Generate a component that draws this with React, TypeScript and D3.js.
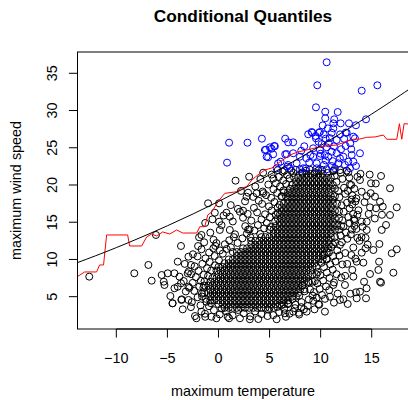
import React from 'react';
import * as d3 from 'd3';

const xTicks = [-10, -5, 0, 5, 10, 15];
const yTicks = [5, 10, 15, 20, 25, 30, 35];
const xDomain = [-13.8, 18.6];
const yDomain = [0.66, 37.86];

// solid core of the black cloud (one y level per row, x values along the row)
const coreY = [3.5, 4.0, 4.5, 5.0, 5.5, 6.0, 6.5, 7.0, 7.5, 8.0, 8.5, 9.0, 9.5, 10.0, 10.5, 11.0, 11.5, 12.0, 12.5, 13.0, 13.5, 14.0, 14.5, 15.0, 15.5, 16.0, 16.5, 17.0, 17.5, 18.0, 18.5, 19.0, 19.5, 20.0, 20.5, 21.0, 21.5];
const coreX = [
  [0.6, 1.0, 1.4, 1.8, 2.2, 2.6, 3.0, 3.4, 3.8, 4.2, 4.6, 5.0, 5.4],
  [0.0, 0.4, 0.8, 1.2, 1.6, 2.0, 2.4, 2.8, 3.2, 3.6, 4.0, 4.4, 4.8, 5.2, 5.6, 6.0, 6.4, 6.8],
  [-0.8, -0.4, 0.0, 0.4, 0.8, 1.2, 1.6, 2.0, 2.4, 2.8, 3.2, 3.6, 4.0, 4.4, 4.8, 5.2, 5.6, 6.0, 6.4, 6.8],
  [-0.8, -0.4, 0.0, 0.4, 0.8, 1.2, 1.6, 2.0, 2.4, 2.8, 3.2, 3.6, 4.0, 4.4, 4.8, 5.2, 5.6, 6.0, 6.4, 6.8, 7.2, 7.6],
  [-1.4, -1.0, -0.6, -0.2, 0.2, 0.6, 1.0, 1.4, 1.8, 2.2, 2.6, 3.0, 3.4, 3.8, 4.2, 4.6, 5.0, 5.4, 5.8, 6.2, 6.6, 7.0, 7.4, 7.8],
  [-0.8, -0.4, 0.0, 0.4, 0.8, 1.2, 1.6, 2.0, 2.4, 2.8, 3.2, 3.6, 4.0, 4.4, 4.8, 5.2, 5.6, 6.0, 6.4, 6.8, 7.2, 7.6, 8.0, 8.4],
  [-1.4, -1.0, -0.6, -0.2, 0.2, 0.6, 1.0, 1.4, 1.8, 2.2, 2.6, 3.0, 3.4, 3.8, 4.2, 4.6, 5.0, 5.4, 5.8, 6.2, 6.6, 7.0, 7.4, 7.8, 8.2],
  [-0.8, -0.4, 0.0, 0.4, 0.8, 1.2, 1.6, 2.0, 2.4, 2.8, 3.2, 3.6, 4.0, 4.4, 4.8, 5.2, 5.6, 6.0, 6.4, 6.8, 7.2, 7.6, 8.0, 8.4, 8.8, 9.2],
  [-0.6, -0.2, 0.2, 0.6, 1.0, 1.4, 1.8, 2.2, 2.6, 3.0, 3.4, 3.8, 4.2, 4.6, 5.0, 5.4, 5.8, 6.2, 6.6, 7.0, 7.4, 7.8, 8.2, 8.6],
  [0.0, 0.4, 0.8, 1.2, 1.6, 2.0, 2.4, 2.8, 3.2, 3.6, 4.0, 4.4, 4.8, 5.2, 5.6, 6.0, 6.4, 6.8, 7.2, 7.6, 8.0, 8.4, 8.8, 9.2, 9.6],
  [-0.2, 0.2, 0.6, 1.0, 1.4, 1.8, 2.2, 2.6, 3.0, 3.4, 3.8, 4.2, 4.6, 5.0, 5.4, 5.8, 6.2, 6.6, 7.0, 7.4, 7.8, 8.2, 8.6, 9.0],
  [0.0, 0.4, 0.8, 1.2, 1.6, 2.0, 2.4, 2.8, 3.2, 3.6, 4.0, 4.4, 4.8, 5.2, 5.6, 6.0, 6.4, 6.8, 7.2, 7.6, 8.0, 8.4, 8.8, 9.2, 9.6],
  [0.6, 1.0, 1.4, 1.8, 2.2, 2.6, 3.0, 3.4, 3.8, 4.2, 4.6, 5.0, 5.4, 5.8, 6.2, 6.6, 7.0, 7.4, 7.8, 8.2, 8.6, 9.0, 9.4],
  [1.0, 1.4, 1.8, 2.2, 2.6, 3.0, 3.4, 3.8, 4.2, 4.6, 5.0, 5.4, 5.8, 6.2, 6.6, 7.0, 7.4, 7.8, 8.2, 8.6, 9.0, 9.4, 9.8, 10.2, 10.6],
  [1.8, 2.2, 2.6, 3.0, 3.4, 3.8, 4.2, 4.6, 5.0, 5.4, 5.8, 6.2, 6.6, 7.0, 7.4, 7.8, 8.2, 8.6, 9.0, 9.4, 9.8, 10.2],
  [1.4, 1.8, 2.2, 2.6, 3.0, 3.4, 3.8, 4.2, 4.6, 5.0, 5.4, 5.8, 6.2, 6.6, 7.0, 7.4, 7.8, 8.2, 8.6, 9.0, 9.4, 9.8, 10.2, 10.6],
  [2.4, 2.8, 3.2, 3.6, 4.0, 4.4, 4.8, 5.2, 5.6, 6.0, 6.4, 6.8, 7.2, 7.6, 8.0, 8.4, 8.8, 9.2, 9.6, 10.0, 10.4],
  [3.2, 3.6, 4.0, 4.4, 4.8, 5.2, 5.6, 6.0, 6.4, 6.8, 7.2, 7.6, 8.0, 8.4, 8.8, 9.2, 9.6, 10.0, 10.4, 10.8, 11.2],
  [3.2, 3.6, 4.0, 4.4, 4.8, 5.2, 5.6, 6.0, 6.4, 6.8, 7.2, 7.6, 8.0, 8.4, 8.8, 9.2, 9.6, 10.0, 10.4, 10.8],
  [4.2, 4.6, 5.0, 5.4, 5.8, 6.2, 6.6, 7.0, 7.4, 7.8, 8.2, 8.6, 9.0, 9.4, 9.8, 10.2, 10.6, 11.0, 11.4],
  [5.4, 5.8, 6.2, 6.6, 7.0, 7.4, 7.8, 8.2, 8.6, 9.0, 9.4, 9.8, 10.2, 10.6, 11.0],
  [5.0, 5.4, 5.8, 6.2, 6.6, 7.0, 7.4, 7.8, 8.2, 8.6, 9.0, 9.4, 9.8, 10.2, 10.6, 11.0, 11.4, 11.8],
  [5.6, 6.0, 6.4, 6.8, 7.2, 7.6, 8.0, 8.4, 8.8, 9.2, 9.6, 10.0, 10.4, 10.8, 11.2, 11.6, 12.0],
  [6.0, 6.4, 6.8, 7.2, 7.6, 8.0, 8.4, 8.8, 9.2, 9.6, 10.0, 10.4, 10.8, 11.2],
  [5.8, 6.2, 6.6, 7.0, 7.4, 7.8, 8.2, 8.6, 9.0, 9.4, 9.8, 10.2, 10.6, 11.0, 11.4, 11.8],
  [5.6, 6.0, 6.4, 6.8, 7.2, 7.6, 8.0, 8.4, 8.8, 9.2, 9.6, 10.0, 10.4, 10.8, 11.2],
  [6.2, 6.6, 7.0, 7.4, 7.8, 8.2, 8.6, 9.0, 9.4, 9.8, 10.2, 10.6, 11.0, 11.4, 11.8],
  [5.8, 6.2, 6.6, 7.0, 7.4, 7.8, 8.2, 8.6, 9.0, 9.4, 9.8, 10.2, 10.6, 11.0],
  [6.4, 6.8, 7.2, 7.6, 8.0, 8.4, 8.8, 9.2, 9.6, 10.0, 10.4, 10.8, 11.2, 11.6],
  [6.8, 7.2, 7.6, 8.0, 8.4, 8.8, 9.2, 9.6, 10.0, 10.4, 10.8, 11.2],
  [6.2, 6.6, 7.0, 7.4, 7.8, 8.2, 8.6, 9.0, 9.4, 9.8, 10.2, 10.6, 11.0, 11.4],
  [6.4, 6.8, 7.2, 7.6, 8.0, 8.4, 8.8, 9.2, 9.6, 10.0, 10.4, 10.8],
  [7.0, 7.4, 7.8, 8.2, 8.6, 9.0, 9.4, 9.8, 10.2, 10.6, 11.0, 11.4],
  [7.2, 7.6, 8.0, 8.4, 8.8, 9.2, 9.6, 10.0, 10.4, 10.8, 11.2],
  [7.6, 8.0, 8.4, 8.8, 9.2, 9.6, 10.0, 10.4, 10.8],
  [7.4, 7.8, 8.2, 8.6, 9.0, 9.4, 9.8, 10.2, 10.6, 11.0],
  [8.2, 8.6, 9.0, 9.4, 9.8, 10.2],
];

// medium-density points around the core
const midPoints: [number, number][] = [
  [-1.32, 2.71], [-0.45, 3.18], [0.12, 2.62], [0.74, 3.05], [1.38, 2.48], [1.93, 3.21], [2.47, 2.77], [3.12, 2.35],
  [3.58, 3.02], [4.21, 2.66], [4.87, 3.27], [5.36, 2.52], [5.94, 2.93], [6.42, 3.38], [6.95, 2.71], [7.48, 3.46],
  [7.86, 2.84], [8.37, 3.31], [-0.93, 3.72], [0.31, 3.41], [6.18, 3.86], [6.83, 4.12], [7.55, 3.93], [8.12, 4.27],
  [8.74, 3.77], [9.28, 4.45], [5.77, 3.62], [7.24, 4.68], [7.91, 5.13], [8.43, 5.72], [8.21, 6.48], [8.86, 6.93],
  [-1.76, 3.84], [-1.18, 4.33], [-2.04, 4.92], [-1.63, 5.41], [-2.37, 5.78], [-1.88, 6.35], [-2.52, 6.86], [-1.73, 7.12],
  [-2.21, 7.63], [-1.46, 7.94], [-1.95, 8.47], [-1.12, 8.82], [-2.33, 9.08], [-1.58, 9.41], [-0.86, 9.67], [-1.27, 10.15],
  [-0.38, 10.46], [-0.92, 10.93], [0.14, 11.21], [-0.31, 11.82], [0.62, 12.04], [1.21, 11.63], [1.05, 12.57], [1.87, 12.21],
  [2.34, 12.83], [1.62, 13.38], [2.78, 13.47], [3.13, 12.96], [0.42, 10.78], [0.05, 9.88], [-0.35, 9.21], [-0.71, 8.52],
  [-1.02, 7.79], [-1.37, 7.05], [-1.48, 6.21], [-1.61, 5.02], [-1.24, 4.71], [-0.73, 4.12], [-2.68, 8.03], [-2.61, 4.27],
  [-2.85, 6.18], [-2.05, 10.41], [-1.66, 11.37], [-0.48, 12.64],
  [3.52, 13.88], [4.08, 13.41], [4.47, 14.17], [3.86, 14.62], [4.73, 14.91], [4.21, 15.38], [5.02, 15.66], [4.56, 16.07],
  [3.78, 16.32], [5.21, 16.58], [4.94, 17.13], [4.27, 17.46], [5.48, 17.71], [5.16, 18.28], [4.66, 18.64], [5.74, 18.93],
  [5.38, 19.42], [6.03, 19.81], [5.62, 20.23], [6.34, 20.62], [5.91, 21.08], [6.72, 21.34], [6.28, 21.77], [7.12, 21.91],
  [3.21, 15.21], [2.86, 16.12], [3.47, 16.93], [3.94, 17.88], [4.33, 19.12], [4.88, 20.06], [5.37, 20.87], [2.62, 14.47],
  [3.04, 14.05], [5.12, 14.35], [5.55, 15.12], [5.81, 16.24], [5.98, 17.32], [6.16, 18.41], [6.37, 19.28], [6.62, 20.14],
  [6.95, 20.88], [7.33, 21.62],
  [12.08, 12.31], [12.61, 12.77], [11.94, 13.22], [12.47, 13.64], [13.06, 14.02], [12.23, 14.41], [12.84, 14.88], [12.12, 15.27],
  [12.71, 15.69], [13.18, 16.11], [12.26, 16.42], [12.83, 16.86], [12.05, 17.27], [12.58, 17.62], [13.02, 18.05], [11.84, 18.36],
  [12.41, 18.81], [11.72, 19.18], [12.29, 19.63], [12.86, 20.04], [11.56, 20.41], [12.13, 20.82], [11.38, 21.23], [11.97, 21.64],
  [12.54, 21.93], [11.21, 21.87], [12.95, 13.36], [13.27, 15.44], [13.09, 17.38], [12.66, 19.22],
  [9.62, 4.86], [10.13, 5.23], [9.35, 5.62], [9.91, 6.04], [10.52, 6.37], [9.68, 6.79], [10.24, 7.16], [10.87, 7.52],
  [9.97, 7.89], [10.61, 8.24], [11.18, 8.63], [10.33, 8.97], [10.94, 9.36], [11.45, 9.72], [10.59, 10.08], [11.22, 10.44],
  [10.81, 10.93], [11.63, 11.22], [11.05, 11.67], [11.89, 11.94], [11.42, 12.28], [8.84, 4.62], [9.21, 5.15], [8.97, 5.96],
  [9.43, 7.08], [9.72, 8.31], [10.08, 9.54], [10.37, 10.61], [10.71, 11.49], [11.84, 10.52], [12.13, 9.33], [11.56, 8.02],
  [11.31, 6.91], [10.84, 5.88], [10.42, 4.71], [9.86, 3.92], [12.41, 10.86], [12.02, 7.56], [11.67, 5.41],
  [6.45, 21.93], [7.56, 22.04], [8.22, 21.68], [8.93, 22.06], [9.44, 21.71], [10.13, 22.03], [10.66, 21.62], [11.31, 21.98],
  [8.57, 21.91], [9.78, 21.94],
];

// isolated black points at the fringes of the cloud
const sparseBlack: [number, number][] = [
  [-12.65, 7.69], [-8.24, 8.14], [-6.86, 9.26], [-6.54, 7.15], [-6.12, 13.29], [-3.67, 11.81], [-3.99, 9.7],
  [-2.94, 10.37], [-2.69, 9.26], [-5.56, 7.91], [-4.97, 8.14], [-4.31, 8.14], [-5.36, 7.01], [-5.29, 6.57],
  [-4.71, 5.09], [-4.48, 4.11], [-4.31, 6.13], [-3.99, 6.34], [-3.67, 6.8], [-3.82, 7.69], [-3.6, 4.65],
  [-2.94, 4.56], [-3.01, 8.14], [-2.94, 6.34], [-4.51, 4.11], [-3.63, 4.56], [-2.16, 2.1], [-1.67, 2.99],
  [-0.69, 2.31], [-1.9, 12.98], [-1.67, 13.29], [-1.02, 17.54], [0.06, 17.54], [0.78, 16.28], [-0.36, 16.28],
  [-0.59, 15.39], [0.06, 15.07], [1.11, 15.74], [2.09, 16.41], [2.41, 16.55], [2.75, 18.43], [2.9, 18.97],
  [0.13, 13.96], [1.11, 13.96], [1.67, 20.58], [3.0, 21.11], [4.37, 21.65], [3.73, 18.88],
  [1.04, 2.1], [3.07, 1.97], [5.69, 1.97], [6.5, 2.77], [7.31, 2.99], [8.63, 2.99], [10.42, 2.99], [12.65, 4.02],
  [13.53, 4.78], [14.44, 4.78], [13.85, 5.67], [14.5, 6.13], [15.91, 6.88], [11.89, 4.56], [11.24, 6.57],
  [10.91, 5.0], [12.22, 4.65], [13.46, 5.59], [14.25, 7.01], [15.81, 7.01], [15.65, 8.59], [14.83, 8.05],
  [15.72, 9.7], [17.12, 8.22], [17.45, 11.36], [16.96, 10.83], [15.75, 12.08], [15.16, 11.27], [14.02, 10.91],
  [13.2, 7.69], [12.38, 6.57], [14.18, 9.57], [13.53, 9.7], [13.0, 10.6], [13.8, 12.5], [14.4, 12.9], [13.3, 14.5],
  [14.0, 13.0], [13.6, 16.0], [13.4, 17.8], [13.1, 18.6], [13.0, 20.0], [12.8, 21.0],
  [14.93, 20.23], [16.79, 19.56], [15.91, 21.21], [17.45, 17.0], [16.79, 15.97], [16.4, 14.63], [15.98, 13.96],
  [16.08, 17.09], [15.32, 18.43], [15.42, 16.87], [14.83, 17.0], [15.81, 17.76], [14.02, 19.1], [14.51, 15.07],
  [14.02, 15.07], [14.51, 13.96], [13.85, 20.67], [14.5, 18.5], [13.9, 21.5], [16.0, 16.0], [15.3, 15.5], [14.6, 12.0],
  [-0.8, 13.6], [0.3, 14.6], [1.4, 15.1], [0.5, 15.9], [1.9, 16.8], [1.2, 17.3], [2.6, 17.8], [3.4, 18.4],
  [2.2, 19.2], [3.6, 19.8], [4.4, 18.9], [4.1, 20.8], [5.2, 21.4], [5.8, 22.0], [-1.3, 14.9], [-0.2, 12.2],
  [0.8, 11.4], [-0.5, 11.5], [2.9, 14.0], [2.4, 15.6], [1.5, 13.0],
  [-2.7, 3.6], [-3.2, 5.7], [-3.4, 7.1], [-2.9, 8.4], [-3.3, 9.4], [-2.5, 10.7], [-2.0, 11.8], [-1.4, 12.3],
  [-3.5, 3.3], [-2.3, 2.4], [-1.3, 2.3], [-0.2, 2.1],
  [0.9, 2.3], [2.1, 2.1], [3.9, 2.0], [4.8, 2.4], [6.6, 2.3], [7.9, 2.6], [8.1, 3.6], [9.4, 3.3], [9.8, 4.0], [11.3, 4.2],
  [12.9, 5.4], [12.4, 7.8], [13.1, 8.6], [12.6, 9.4], [13.4, 10.1], [13.2, 11.6], [13.6, 12.9], [13.5, 14.1],
  [13.3, 15.2], [13.7, 16.6], [13.5, 18.2], [13.3, 19.5], [13.6, 21.1], [12.7, 21.7], [11.9, 22.0], [14.4, 11.5],
  [14.1, 14.4], [14.7, 16.1], [14.3, 17.7], [14.9, 18.9], [14.8, 21.4], [15.4, 20.2],
];

// points above the conditional quantile, drawn in blue
const bluePoints: [number, number][] = [
  [10.59, 36.48], [9.67, 33.39], [14.02, 32.66], [15.55, 33.39], [9.54, 30.43], [10.45, 29.84], [11.67, 29.8],
  [10.45, 28.96], [11.33, 28.82], [14.44, 28.82], [11.24, 28.28], [11.96, 28.28], [12.77, 28.28], [13.46, 28.02],
  [11.24, 27.61], [11.08, 27.02], [8.78, 26.81], [9.18, 27.02], [9.83, 27.02], [9.51, 26.58], [12.45, 27.02],
  [13.2, 26.49], [1.04, 25.68], [2.84, 25.68], [4.25, 26.22], [0.84, 23.0], [4.54, 24.7], [5.03, 25.06],
  [5.45, 25.24], [4.86, 23.72], [5.35, 24.12], [6.53, 26.22], [6.82, 25.73], [7.31, 25.73], [6.08, 23.13],
  [6.53, 24.12], [7.31, 24.26], [9.12, 27.12], [9.93, 27.12], [9.54, 26.27], [10.49, 26.22], [11.57, 26.04],
  [12.55, 27.02], [13.36, 26.27], [12.45, 25.24], [13.85, 24.26], [13.04, 24.03], [13.2, 23.13], [12.22, 23.8],
  [5.69, 22.24], [6.73, 22.46], [7.97, 22.11], [9.27, 24.93], [9.93, 24.7], [10.59, 25.06], [11.08, 24.47],
  [9.27, 23.8], [9.93, 23.89], [10.75, 23.8], [11.57, 24.26], [11.89, 23.58], [12.71, 23.13], [8.88, 23.0],
  [9.61, 22.91], [10.32, 22.69], [11.08, 22.55], [11.73, 22.91], [12.38, 22.69], [8.56, 22.24], [9.61, 22.24],
  [10.59, 22.11], [11.4, 22.24], [12.87, 22.24], [13.46, 22.55], [4.64, 24.74], [5.2, 24.87], [5.52, 25.2],
  [4.71, 23.8], [6.67, 24.16], [7.97, 23.8], [5.84, 22.91], [6.82, 22.69], [7.65, 22.91], [8.29, 22.24],
  [6.99, 22.24], [10.1, 25.5], [10.8, 25.6], [11.3, 25.2], [9.8, 25.8], [10.3, 26.8], [10.0, 24.2], [10.5, 23.3],
  [11.2, 23.2], [12.0, 24.8], [12.9, 25.6], [8.4, 25.2], [8.1, 24.6], [9.0, 24.0], [8.6, 23.6], [10.7, 27.6],
  [10.2, 28.0], [10.9, 26.3], [11.9, 26.8], [13.0, 24.8], [12.3, 26.2], [10.4, 24.0],
];

// nonparametric conditional quantile (red)
const redX = [-13.82, -13.1, -11.93, -11.64, -11.25, -10.95, -8.89, -8.7, -7.52, -7.03, -6.54, -6.05, -5.46, -4.77, -4.09, -3.5, -2.13, -1.83, -1.34, -1.05, -0.66, -0.07, 0.62, 1.79, 2.28, 2.77, 3.26, 3.85, 4.54, 5.22, 6.01, 6.99, 7.77, 8.63, 9.44, 10.42, 11.57, 12.38, 13.2, 13.85, 14.51, 15.32, 16.14, 16.47, 17.45, 17.71, 17.94, 18.17, 18.6];
const redY = [7.69, 8.32, 8.32, 9.26, 9.26, 13.29, 13.29, 11.81, 11.81, 13.02, 13.42, 13.15, 13.69, 13.42, 13.96, 13.55, 13.55, 14.4, 14.4, 15.97, 16.37, 17.72, 18.88, 19.1, 19.6, 19.77, 20.67, 21.34, 22.01, 22.28, 23.09, 24.03, 24.43, 24.7, 24.97, 25.24, 25.37, 25.77, 26.14, 26.18, 26.4, 26.45, 26.71, 26.14, 26.14, 28.23, 26.14, 28.23, 28.19];

// parametric quantile fit (black curve)
const fitX = [-13.8, -10, -5, 0, 5, 10, 15, 18.6];
const fitY = [9.58, 11.59, 14.52, 17.78, 21.37, 25.29, 29.53, 32.8];

const FONT = '"Liberation Sans", Arial, Helvetica, sans-serif';
const fmt = (v: number) => String(v).replace('-', '\u2212');

export default function App() {
  const W = 408, H = 400;
  const left = 77.5, right = 408.5, top = 52, bottom = 329;
  const x = d3.scaleLinear().domain(xDomain).range([left, right]);
  const y = d3.scaleLinear().domain(yDomain).range([bottom, top]);

  const black: [number, number][] = [];
  coreY.forEach((yy, i) => coreX[i].forEach((xx) => black.push([xx, yy])));
  midPoints.forEach((p) => black.push(p));
  sparseBlack.forEach((p) => black.push(p));

  const line = d3.line<[number, number]>().x((d) => x(d[0])).y((d) => y(d[1]));
  const redPath = line(redX.map((v, i) => [v, redY[i]] as [number, number])) || '';
  const fitPath = d3.line<[number, number]>().x((d) => x(d[0])).y((d) => y(d[1])).curve(d3.curveNatural)(
    fitX.map((v, i) => [v, fitY[i]] as [number, number])
  ) || '';

  const r = 3.5;
  const tick = 8.6;

  return (
    <svg width={W} height={H} style={{ position: 'absolute', left: 0, top: 0, background: '#fff' }} fontFamily={FONT}>
      <defs>
        <clipPath id="plotclip">
          <rect x={left} y={top} width={right - left} height={bottom - top} />
        </clipPath>
      </defs>
      <rect x={0} y={0} width={W} height={H} fill="#fff" />
      <g fill="none" stroke="#000" strokeWidth={1}>
        {black.map((p, i) => (
          <circle key={'b' + i} cx={x(p[0])} cy={y(p[1])} r={r} />
        ))}
      </g>
      <g fill="none" stroke="#0000ff" strokeWidth={1}>
        {bluePoints.map((p, i) => (
          <circle key={'u' + i} cx={x(p[0])} cy={y(p[1])} r={r} />
        ))}
      </g>
      <g clipPath="url(#plotclip)" fill="none">
        <path d={redPath} stroke="#ff0000" strokeWidth={1} />
        <path d={fitPath} stroke="#000" strokeWidth={1} />
      </g>
      <rect x={left} y={top} width={right - left} height={bottom - top} fill="none" stroke="#000" strokeWidth={1} />
      <g stroke="#000" strokeWidth={1}>
        <line x1={x(xTicks[0])} x2={x(xTicks[xTicks.length - 1])} y1={bottom} y2={bottom} />
        {xTicks.map((t) => (
          <line key={'xt' + t} x1={x(t)} x2={x(t)} y1={bottom} y2={bottom + tick} />
        ))}
        <line x1={left} x2={left} y1={y(yTicks[0])} y2={y(yTicks[yTicks.length - 1])} />
        {yTicks.map((t) => (
          <line key={'yt' + t} x1={left} x2={left - tick} y1={y(t)} y2={y(t)} />
        ))}
      </g>
      <g fontSize={14.4} fill="#000" textAnchor="middle">
        {xTicks.map((t) => (
          <text key={'xl' + t} x={x(t)} y={362.5}>{fmt(t)}</text>
        ))}
        {yTicks.map((t) => (
          <text key={'yl' + t} transform={`translate(56.5,${y(t)}) rotate(-90)`}>{fmt(t)}</text>
        ))}
        <text x={243} y={396}>maximum temperature</text>
        <text transform={`translate(21,${(top + bottom) / 2}) rotate(-90)`}>maximum wind speed</text>
      </g>
      <text x={243} y={21.5} fontSize={17.28} fontWeight="bold" textAnchor="middle" fill="#000">
        Conditional Quantiles
      </text>
    </svg>
  );
}
